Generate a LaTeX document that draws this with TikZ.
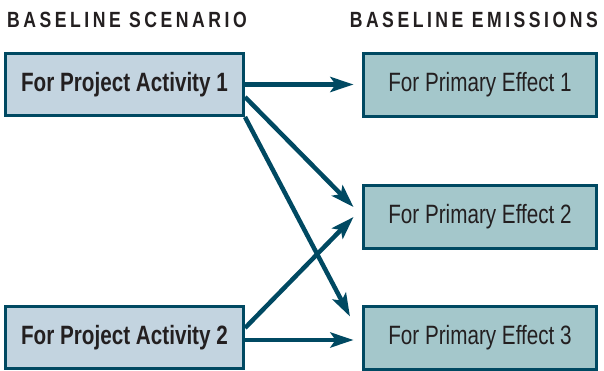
\documentclass[tikz,border=0pt]{standalone}
\usepackage{fontspec}
\usetikzlibrary{arrows.meta}
\newfontfamily\condreg[FakeStretch=0.78]{Liberation Sans}
\newfontfamily\condbold[FakeStretch=0.78]{Liberation Sans Bold}
\newfontfamily\headfont[FakeStretch=0.8,LetterSpace=16]{Liberation Sans Bold}
\definecolor{edgeteal}{HTML}{004962}
\definecolor{leftfill}{HTML}{C3D4E0}
\definecolor{rightfill}{HTML}{A4C7CB}
\definecolor{txt}{HTML}{231F20}
\tikzset{
  leftbox/.style={draw=edgeteal, line width=3pt, fill=leftfill, inner sep=0pt,
    minimum width=238pt, minimum height=62pt, text=txt, font=\condbold\fontsize{26.5}{28}\selectfont},
  rightbox/.style={draw=edgeteal, line width=3pt, fill=rightfill, inner sep=0pt,
    minimum width=233pt, minimum height=63pt, text=txt, font=\condreg\fontsize{26.5}{28}\selectfont},
  heading/.style={text=txt, inner sep=0pt, font=\headfont\fontsize{22}{24}\selectfont},
  conn/.style={draw=edgeteal, line width=4.5pt, -{Stealth[length=23pt,width=15pt,inset=5pt]}}
}
\begin{document}
\begin{tikzpicture}[x=1pt,y=-1pt]
\useasboundingbox (0,0) rectangle (604,371);
\node[heading, anchor=base west] (h1) at (7,28) {BASELINE SCENARIO};
\node[heading, anchor=base east] (h2) at (598,28) {BASELINE EMISSIONS};
\node[leftbox] (P1) at (124.5,84.5) {For Project Activity 1};
\node[leftbox] (P2) at (124.5,337.5) {For Project Activity 2};
\node[rightbox] (R1) at (480,85) {For Primary Effect 1};
\node[rightbox] (R2) at (480,217) {For Primary Effect 2};
\node[rightbox] (R3) at (480,337.5) {For Primary Effect 3};
\draw[conn] (P1.east) -- ([xshift=-8.5pt]P1.east -| R1.west);
\draw[conn] ([yshift=-12.5pt]P1.east) -- ([xshift=-8.5pt,yshift=10pt]R2.west);
\draw[conn] (P1.south east) -- ([xshift=-12pt,yshift=-12pt]R3.north west);
\draw[conn] ([yshift=9.5pt]P2.east) -- ([xshift=-8.5pt]R2.west);
\draw[conn] ([yshift=-2.5pt]P2.east) -- ([xshift=-8.5pt,yshift=-2.5pt]R3.west);
\end{tikzpicture}
\end{document}
